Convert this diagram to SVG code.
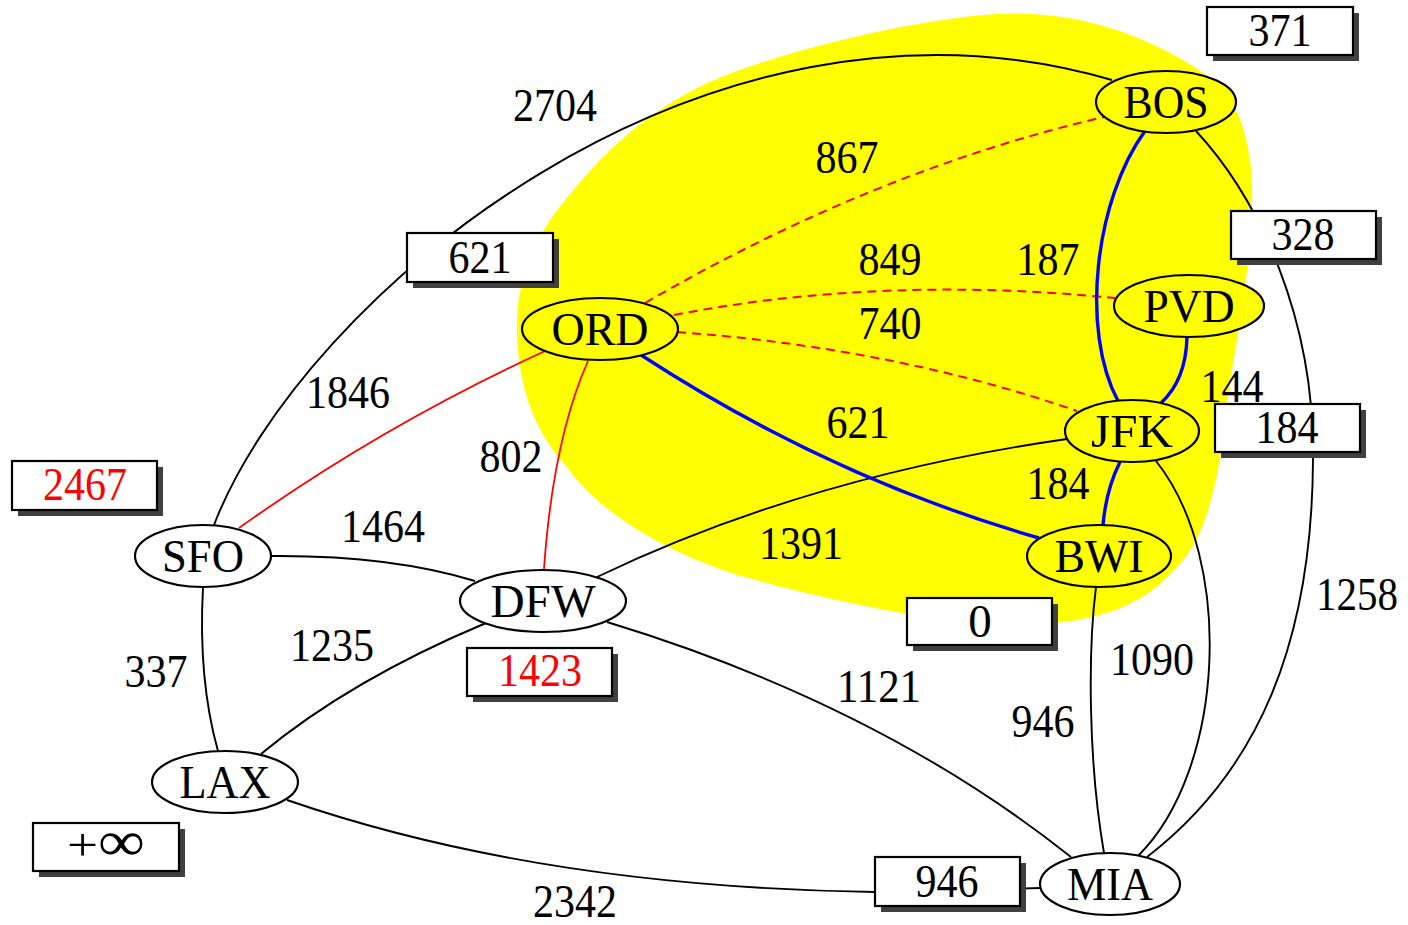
<svg xmlns="http://www.w3.org/2000/svg" width="1408" height="925" viewBox="0 0 1408 925">
<style>
.e{fill:none;stroke:#000;stroke-width:1.9}
.r{fill:none;stroke:#f00;stroke-width:1.8}
.rd{fill:none;stroke:#f00;stroke-width:2;stroke-dasharray:9 6}
.b{fill:none;stroke:#00f;stroke-width:3.4}
.n{stroke:#000;stroke-width:2.2}
.ny{fill:#ff0}
.nw{fill:#fff}
text{font-family:"Liberation Serif","DejaVu Serif",serif;font-size:47px;text-anchor:middle;fill:#000}
.box{fill:#fff;stroke:#000;stroke-width:2.2}
.sh{fill:#404040}
text.red{fill:#f00}
</style>
<rect width="1408" height="925" fill="#fff"/>
<g id="region">
<path fill="#ff0" d="M 997 14 C 1077.5 9.5, 1140.8 35.7, 1183 60 C 1225.2 84.3, 1242.2 106.7, 1250 160 C 1257.8 213.3, 1242.7 311.7, 1230 380 C 1222 450, 1215 532, 1174 570 C 1138.3 610.8, 1087.5 623.8, 1016 625 C 944.5 626.2, 815 597, 745 577 C 675 557, 600 515, 567 467 C 529 426.3, 518.2 375.8, 517 333 C 515.8 290.2, 527 248, 562 204 C 594 164, 635 118, 705 84 C 775 52, 916.5 18.5, 997 14 Z"/>
</g>
<g id="connectors">
<path class="e" d="M 214 525 C 300 300, 700 -40, 1112 80"/>
<path class="r" d="M 239 528 Q 382 426 545 351"/>
<path class="e" d="M 271 556 Q 390 555 475 581"/>
<path class="e" d="M 203 587 Q 198 680 218 751"/>
<path class="e" d="M 261 754 Q 350 680 486 623"/>
<path class="e" d="M 287 800 Q 539 887 875 892 L 1041 888"/>
<path class="r" d="M 544 569 Q 553 440 588 361"/>
<path class="e" d="M 597 577 Q 808 476 1067 439"/>
<path class="e" d="M 607 622 Q 880 705 1071 857"/>
<path class="rd" d="M 645 303 Q 875 170 1104 117"/>
<path class="rd" d="M 674 315 Q 880 275 1115 298"/>
<path class="rd" d="M 677 332 Q 895 348 1077 411"/>
<path class="b" d="M 641 355 Q 830 478 1039 538"/>
<path class="b" d="M 1145 131 C 1095 200, 1080 330, 1118 401"/>
<path class="b" d="M 1187 337 Q 1186 380 1161 403"/>
<path class="b" d="M 1120 462 Q 1106 490 1103 525"/>
<path class="e" d="M 1196 131 C 1260 200, 1315 320, 1313 460 C 1312 640, 1260 770, 1147 857"/>
<path class="e" d="M 1156 461 C 1235 560, 1225 770, 1138 856"/>
<path class="e" d="M 1096 587 C 1088 650, 1088 760, 1104 853"/>
<text x="555" y="121" textLength="84" lengthAdjust="spacingAndGlyphs">2704</text>
<text x="847" y="173" textLength="63" lengthAdjust="spacingAndGlyphs">867</text>
<text x="890" y="275" textLength="63" lengthAdjust="spacingAndGlyphs">849</text>
<text x="1048" y="275" textLength="63" lengthAdjust="spacingAndGlyphs">187</text>
<text x="890" y="339" textLength="63" lengthAdjust="spacingAndGlyphs">740</text>
<text x="858" y="438" textLength="63" lengthAdjust="spacingAndGlyphs">621</text>
<text x="1232" y="402" textLength="63" lengthAdjust="spacingAndGlyphs">144</text>
<text x="1058" y="499" textLength="63" lengthAdjust="spacingAndGlyphs">184</text>
<text x="801" y="559" textLength="84" lengthAdjust="spacingAndGlyphs">1391</text>
<text x="348" y="408" textLength="84" lengthAdjust="spacingAndGlyphs">1846</text>
<text x="511" y="472" textLength="63" lengthAdjust="spacingAndGlyphs">802</text>
<text x="383" y="542" textLength="84" lengthAdjust="spacingAndGlyphs">1464</text>
<text x="332" y="661" textLength="84" lengthAdjust="spacingAndGlyphs">1235</text>
<text x="156" y="687" textLength="63" lengthAdjust="spacingAndGlyphs">337</text>
<text x="575" y="917" textLength="84" lengthAdjust="spacingAndGlyphs">2342</text>
<text x="879" y="702" textLength="84" lengthAdjust="spacingAndGlyphs">1121</text>
<text x="1043" y="737" textLength="63" lengthAdjust="spacingAndGlyphs">946</text>
<text x="1152" y="675" textLength="84" lengthAdjust="spacingAndGlyphs">1090</text>
<text x="1357" y="610" textLength="82" lengthAdjust="spacingAndGlyphs">1258</text>
</g>
<g id="BOS">
<ellipse class="n ny" cx="1166" cy="102" rx="70" ry="31"/>
<text x="1166" y="118" textLength="85" lengthAdjust="spacingAndGlyphs">BOS</text>
<rect class="sh" x="1213" y="13" width="146" height="48"/>
<rect class="box" x="1207" y="7" width="146" height="48"/>
<text x="1280" y="46" textLength="63" lengthAdjust="spacingAndGlyphs">371</text>
</g>
<g id="PVD">
<ellipse class="n ny" cx="1189" cy="306" rx="75" ry="31"/>
<text x="1189" y="322" textLength="91" lengthAdjust="spacingAndGlyphs">PVD</text>
<rect class="sh" x="1237" y="217" width="145" height="48"/>
<rect class="box" x="1231" y="211" width="145" height="48"/>
<text x="1303" y="250" textLength="63" lengthAdjust="spacingAndGlyphs">328</text>
</g>
<g id="JFK">
<ellipse class="n ny" cx="1132" cy="431" rx="67" ry="31"/>
<text x="1132" y="447" textLength="82" lengthAdjust="spacingAndGlyphs">JFK</text>
<rect class="sh" x="1221" y="410" width="145" height="48"/>
<rect class="box" x="1215" y="404" width="145" height="48"/>
<text x="1287" y="443" textLength="63" lengthAdjust="spacingAndGlyphs">184</text>
</g>
<g id="BWI">
<ellipse class="n ny" cx="1099" cy="556" rx="72" ry="31"/>
<text x="1099" y="572" textLength="89" lengthAdjust="spacingAndGlyphs">BWI</text>
<rect class="sh" x="913" y="604" width="145" height="47"/>
<rect class="box" x="907" y="598" width="145" height="47"/>
<text x="980" y="637">0</text>
</g>
<g id="ORD">
<ellipse class="n ny" cx="600" cy="329" rx="78" ry="31"/>
<text x="600" y="345" textLength="97" lengthAdjust="spacingAndGlyphs">ORD</text>
<rect class="sh" x="413" y="239" width="146" height="49"/>
<rect class="box" x="407" y="233" width="146" height="49"/>
<text x="480" y="273" textLength="63" lengthAdjust="spacingAndGlyphs">621</text>
</g>
<g id="SFO">
<ellipse class="n nw" cx="203" cy="556" rx="68" ry="31"/>
<text x="203" y="572" textLength="82" lengthAdjust="spacingAndGlyphs">SFO</text>
<rect class="sh" x="18" y="467" width="145" height="49"/>
<rect class="box" x="12" y="461" width="145" height="49"/>
<text class="red" x="85" y="500" textLength="84" lengthAdjust="spacingAndGlyphs">2467</text>
</g>
<g id="DFW">
<ellipse class="n nw" cx="543" cy="601" rx="83" ry="31"/>
<text x="543" y="617" textLength="105" lengthAdjust="spacingAndGlyphs">DFW</text>
<rect class="sh" x="473" y="654" width="145" height="48"/>
<rect class="box" x="467" y="648" width="145" height="48"/>
<text class="red" x="540" y="686" textLength="84" lengthAdjust="spacingAndGlyphs">1423</text>
</g>
<g id="LAX">
<ellipse class="n nw" cx="225" cy="782" rx="73" ry="31"/>
<text x="225" y="798" textLength="91" lengthAdjust="spacingAndGlyphs">LAX</text>
<rect class="sh" x="39" y="829" width="146" height="48"/>
<rect class="box" x="33" y="823" width="146" height="48"/>
<text x="106" y="860" textLength="78" lengthAdjust="spacingAndGlyphs">+<tspan font-size="56px">∞</tspan></text>
</g>
<g id="MIA">
<ellipse class="n nw" cx="1110" cy="884" rx="70" ry="31"/>
<text x="1110" y="900" textLength="86" lengthAdjust="spacingAndGlyphs">MIA</text>
<rect class="sh" x="881" y="863" width="145" height="49"/>
<rect class="box" x="875" y="857" width="145" height="49"/>
<text x="947" y="897" textLength="63" lengthAdjust="spacingAndGlyphs">946</text>
</g>
</svg>
